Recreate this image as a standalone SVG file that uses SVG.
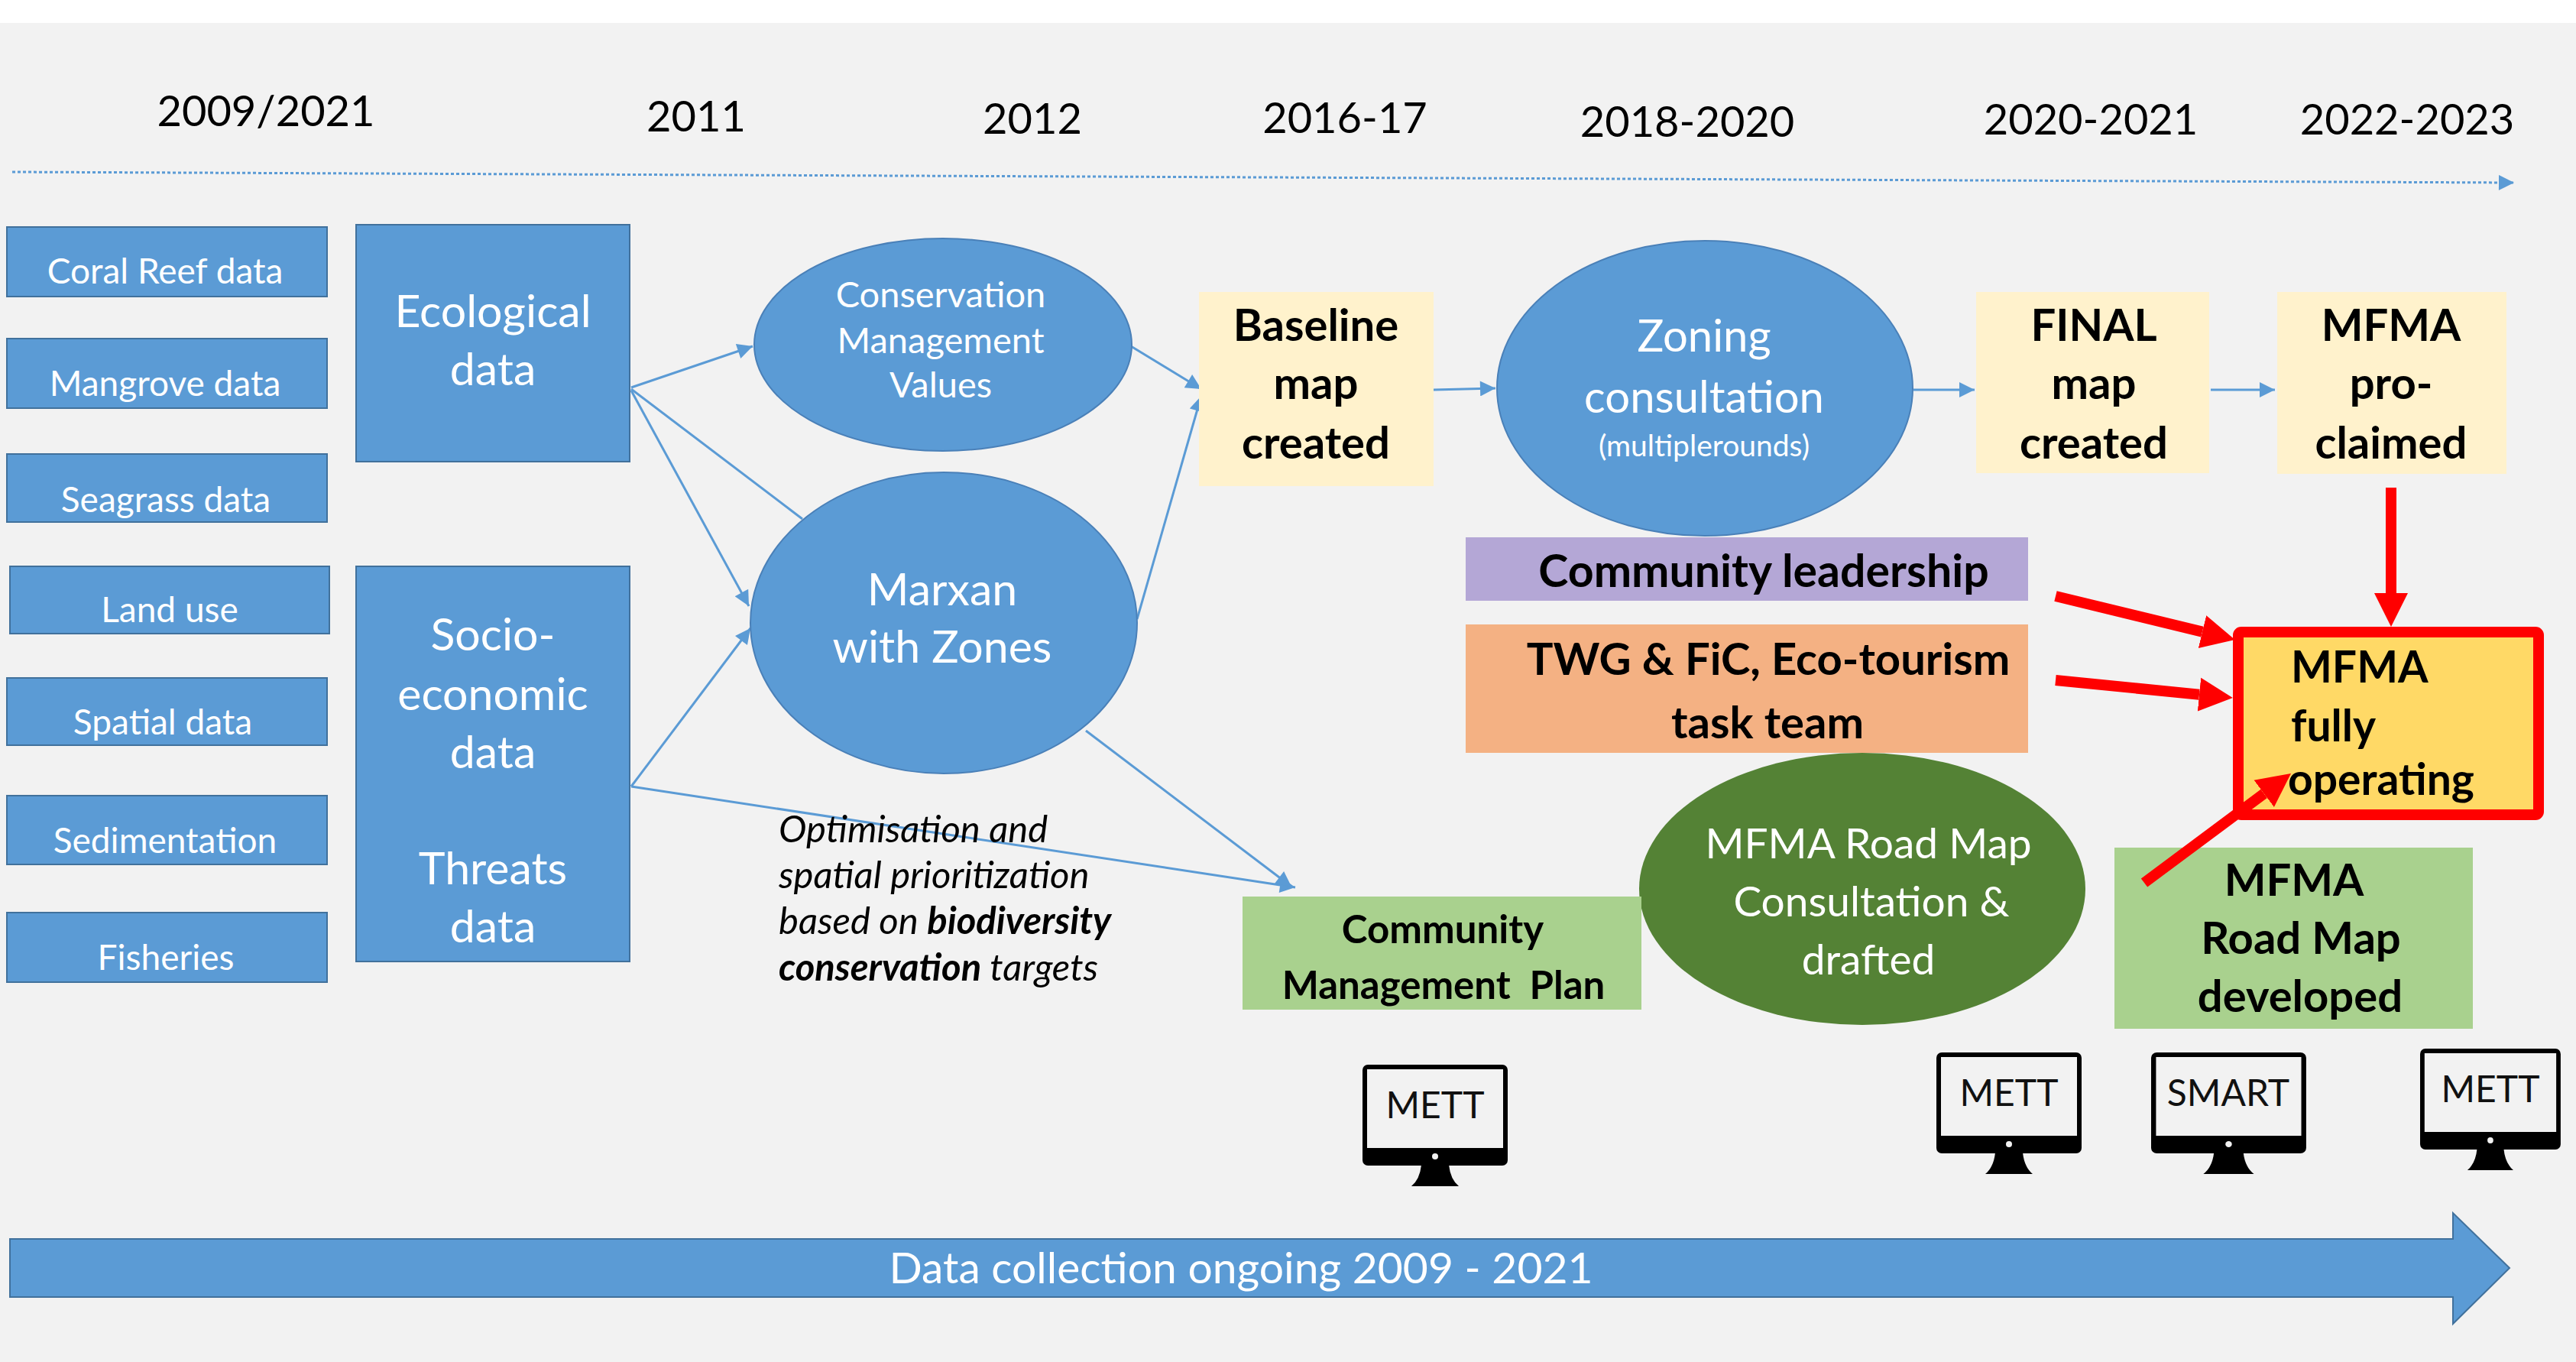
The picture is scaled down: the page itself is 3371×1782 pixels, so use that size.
<svg xmlns="http://www.w3.org/2000/svg" xmlns:xlink="http://www.w3.org/1999/xlink" width="3371" height="1782" viewBox="0 0 3371 1782">
<defs>
<style>
text{font-family:Lato,"Liberation Sans",sans-serif;}
.yr{font-size:56px;fill:#000;text-anchor:middle;}
.bx{fill:#5b9bd5;stroke:#41719c;stroke-width:2;}
.lbl{font-size:46px;fill:#fff;text-anchor:middle;}
.big{font-size:59px;fill:#fff;text-anchor:middle;}
.ell{fill:#5b9bd5;stroke:#4a80b8;stroke-width:2;}
.bold{font-weight:700;fill:#000;text-anchor:middle;}
.con{stroke:#5b9bd5;stroke-width:3;fill:none;}
.conA{stroke:#5b9bd5;stroke-width:3;fill:none;marker-end:url(#ab);}
.red{stroke:#ff0000;stroke-width:14;fill:none;marker-end:url(#ar);}
.mt{font-size:48px;fill:#111;text-anchor:middle;}
.it{font-size:49px;font-style:italic;fill:#000;}
</style>
<marker id="ab" viewBox="0 0 10 10" refX="10" refY="5" markerWidth="24" markerHeight="20" markerUnits="userSpaceOnUse" orient="auto">
<path d="M0,0 L10,5 L0,10 z" fill="#5b9bd5"/>
</marker>
<marker id="ar" viewBox="0 0 10 10" refX="0" refY="5" markerWidth="44" markerHeight="48" markerUnits="userSpaceOnUse" orient="auto">
<path d="M0,0 L10,5 L0,10 z" fill="#ff0000"/>
</marker>
<g id="mon">
<rect x="0" y="0" width="190" height="132" rx="7" fill="#000"/>
<rect x="6" y="6" width="178" height="103" fill="#f2f2f2"/>
<circle cx="95" cy="120" r="4" fill="#f2f2f2"/>
<path d="M77,131 L113,131 Q115,150 126,159 L64,159 Q75,150 77,131 Z" fill="#000"/>
</g>
</defs>

<rect x="0" y="0" width="3371" height="1782" fill="#f2f2f2"/>
<rect x="0" y="0" width="3371" height="30" fill="#ffffff"/>

<g id="years">
<text class="yr" x="348" y="165">2009/2021</text>
<text class="yr" x="911" y="172">2011</text>
<text class="yr" x="1351" y="175">2012</text>
<text class="yr" x="1760" y="174">2016-17</text>
<text class="yr" x="2208" y="179">2018-2020</text>
<text class="yr" x="2736" y="176">2020-2021</text>
<text class="yr" x="3150" y="176">2022-2023</text>
</g>

<g id="timeline">
<line x1="16" y1="225" x2="3290" y2="239" stroke="#5b9bd5" stroke-width="3" stroke-dasharray="4 3" marker-end="url(#ab)"/>
</g>

<g id="connectors">
<line class="conA" x1="826" y1="507" x2="985" y2="453"/>
<line class="con" x1="826" y1="509" x2="1050" y2="679"/>
<line class="conA" x1="826" y1="511" x2="980" y2="793"/>
<line class="conA" x1="826" y1="1029" x2="982" y2="822"/>
<line class="conA" x1="826" y1="1029" x2="1695" y2="1161"/>
<line class="conA" x1="1421" y1="956" x2="1690" y2="1160"/>
<line class="conA" x1="1480" y1="453" x2="1572" y2="509"/>
<line class="conA" x1="1488" y1="810" x2="1572" y2="518"/>
<line class="conA" x1="1876" y1="510" x2="1957" y2="508" stroke-width="4"/>
<line class="conA" x1="2504" y1="510" x2="2584" y2="510" stroke-width="4"/>
<line class="conA" x1="2893" y1="510" x2="2977" y2="510" stroke-width="4"/>
</g>

<g id="n-coral"><rect class="bx" x="9" y="297" width="419" height="91"/><text class="lbl" x="216" y="371">Coral Reef data</text></g>
<g id="n-mangrove"><rect class="bx" x="9" y="443" width="419" height="91"/><text class="lbl" x="216" y="518">Mangrove data</text></g>
<g id="n-seagrass"><rect class="bx" x="9" y="594" width="419" height="89"/><text class="lbl" x="217" y="670">Seagrass data</text></g>
<g id="n-landuse"><rect class="bx" x="13" y="741" width="418" height="88"/><text class="lbl" x="222" y="814">Land use</text></g>
<g id="n-spatial"><rect class="bx" x="9" y="887" width="419" height="88"/><text class="lbl" x="213" y="961">Spatial data</text></g>
<g id="n-sediment"><rect class="bx" x="9" y="1041" width="419" height="90"/><text class="lbl" x="216" y="1116">Sedimentation</text></g>
<g id="n-fisheries"><rect class="bx" x="9" y="1194" width="419" height="91"/><text class="lbl" x="217" y="1269">Fisheries</text></g>

<g id="n-ecological"><rect class="bx" x="466" y="294" width="358" height="310"/>
<text class="big" x="645" y="428">Ecological</text><text class="big" x="645" y="504">data</text></g>

<g id="n-socio"><rect class="bx" x="466" y="741" width="358" height="517"/>
<text class="big" x="645" y="851">Socio-</text><text class="big" x="645" y="929">economic</text><text class="big" x="645" y="1005">data</text>
<text class="big" x="645" y="1157">Threats</text><text class="big" x="645" y="1233">data</text></g>

<g id="n-cmv"><ellipse class="ell" cx="1234" cy="451" rx="247" ry="139"/>
<text x="1231" y="402" font-size="47" fill="#fff" text-anchor="middle">Conservation</text>
<text x="1231" y="462" font-size="47" fill="#fff" text-anchor="middle">Management</text>
<text x="1231" y="520" font-size="47" fill="#fff" text-anchor="middle">Values</text></g>

<g id="n-marxan"><ellipse class="ell" cx="1235" cy="815" rx="253" ry="197"/>
<text class="big" x="1233" y="792">Marxan</text><text class="big" x="1233" y="867">with Zones</text></g>

<g id="n-baseline"><rect x="1569" y="382" width="307" height="254" fill="#fff2cc"/>
<text class="bold" x="1722" y="446" font-size="58">Baseline</text>
<text class="bold" x="1722" y="522" font-size="58">map</text>
<text class="bold" x="1722" y="600" font-size="58">created</text></g>

<g id="n-zoning"><ellipse class="ell" cx="2231" cy="508" rx="272" ry="193"/>
<text x="2230" y="460" font-size="58" fill="#fff" text-anchor="middle">Zoning</text>
<text x="2230" y="540" font-size="58" fill="#fff" text-anchor="middle">consultation</text>
<text x="2230" y="597" font-size="39" fill="#fff" text-anchor="middle">(multiplerounds)</text></g>

<g id="n-final"><rect x="2586" y="382" width="305" height="237" fill="#fff2cc"/>
<text class="bold" x="2740" y="446" font-size="58">FINAL</text>
<text class="bold" x="2740" y="522" font-size="58">map</text>
<text class="bold" x="2740" y="600" font-size="58">created</text></g>

<g id="n-proclaimed"><rect x="2980" y="382" width="300" height="238" fill="#fff2cc"/>
<text class="bold" x="3129" y="446" font-size="58">MFMA</text>
<text class="bold" x="3129" y="522" font-size="58">pro-</text>
<text class="bold" x="3129" y="600" font-size="58">claimed</text></g>

<g id="n-leadership"><rect x="1918" y="703" width="736" height="83" fill="#b4a7d6"/>
<text class="bold" x="2308" y="768" font-size="59">Community leadership</text></g>

<g id="n-twg"><rect x="1918" y="817" width="736" height="168" fill="#f4b183"/>
<text class="bold" x="2314" y="883" font-size="58">TWG &amp; FiC, Eco-tourism</text>
<text class="bold" x="2313" y="966" font-size="58">task team</text></g>

<g id="n-roadmap"><ellipse cx="2437" cy="1163" rx="292" ry="178" fill="#548235"/>
<text x="2445" y="1123" font-size="55" fill="#fff" text-anchor="middle">MFMA Road Map</text>
<text x="2449" y="1199" font-size="55" fill="#fff" text-anchor="middle">Consultation &amp;</text>
<text x="2445" y="1275" font-size="55" fill="#fff" text-anchor="middle">drafted</text></g>

<g id="n-cmp"><rect x="1626" y="1173" width="522" height="148" fill="#a9d18e"/>
<text class="bold" x="1888" y="1234" font-size="51">Community</text>
<text class="bold" x="1889" y="1307" font-size="51" xml:space="preserve">Management  Plan</text></g>

<g id="n-developed"><rect x="2767" y="1109" width="469" height="237" fill="#a9d18e"/>
<text class="bold" x="3002" y="1172" font-size="58">MFMA</text>
<text class="bold" x="3011" y="1248" font-size="58">Road Map</text>
<text class="bold" x="3010" y="1324" font-size="58">developed</text></g>

<g id="n-operating"><rect x="2929" y="827" width="393" height="239" rx="4" fill="#ffd966" stroke="#ff0000" stroke-width="14"/>
<text x="2998" y="893" font-size="57" font-weight="700" fill="#000">MFMA</text>
<text x="2998" y="970" font-size="57" font-weight="700" fill="#000">fully</text>
<text x="2994" y="1040" font-size="57" font-weight="700" fill="#000">operating</text></g>

<g id="red-arrows">
<line class="red" x1="3129" y1="638" x2="3129" y2="776"/>
<line class="red" x1="2690" y1="780" x2="2882" y2="826.6"/>
<line class="red" x1="2690" y1="890" x2="2878" y2="908.7"/>
<line class="red" x1="2806" y1="1155" x2="2962.7" y2="1038.3"/>
</g>

<g id="n-note">
<text class="it" x="1019" y="1102">Optimisation and</text>
<text class="it" x="1019" y="1162">spatial prioritization</text>
<text class="it" x="1019" y="1222">based on <tspan font-weight="700">biodiversity</tspan></text>
<text class="it" x="1019" y="1283"><tspan font-weight="700">conservation</tspan> targets</text>
</g>

<g id="n-mett1"><use xlink:href="#mon" href="#mon" transform="translate(1783,1393)"/><text class="mt" x="1878" y="1463">METT</text></g>
<g id="n-mett2"><use xlink:href="#mon" href="#mon" transform="translate(2534,1377)"/><text class="mt" x="2629" y="1447">METT</text></g>
<g id="n-smart"><use xlink:href="#mon" href="#mon" transform="translate(2815,1377) scale(1.068,1)"/><text class="mt" x="2916" y="1447">SMART</text></g>
<g id="n-mett3"><use xlink:href="#mon" href="#mon" transform="translate(3167,1372) scale(0.968,1)"/><text class="mt" x="3259" y="1442">METT</text></g>

<g id="n-datacollection">
<path d="M13,1621 L3210,1621 L3210,1587 L3284,1659 L3210,1732 L3210,1697 L13,1697 Z" fill="#5b9bd5" stroke="#41719c" stroke-width="2"/>
<text x="1624" y="1679" font-size="57" fill="#fff" text-anchor="middle">Data collection ongoing 2009 - 2021</text>
</g>
</svg>
